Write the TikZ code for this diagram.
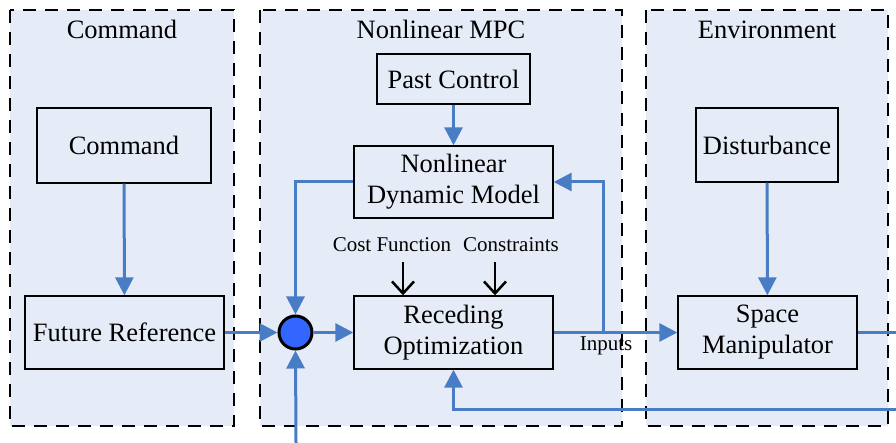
\documentclass[tikz,border=0pt]{standalone}
\usepackage{fontspec}
\setmainfont{Liberation Serif}
\usetikzlibrary{arrows.meta}
\definecolor{panelfill}{RGB}{230,236,247}
\definecolor{flowblue}{RGB}{72,124,196}
\definecolor{sumblue}{RGB}{51,102,255}

\begin{document}
\begin{tikzpicture}[x=1pt,y=-1pt,
  panel/.style={draw=black, line width=2.2pt, dash pattern=on 13pt off 9pt, fill=panelfill},
  paneltitle/.style={anchor=base, inner sep=0pt, font=\fontsize{26.5}{31}\selectfont},
  block/.style={draw=black, line width=1.4pt, fill=panelfill, inner sep=0pt,
    align=center, font=\fontsize{26.5}{31}\selectfont},
  small/.style={inner sep=0pt, font=\fontsize{21}{25}\selectfont},
  flow/.style={draw=flowblue, line width=3pt, -{Triangle[length=18pt,width=18pt]}},
  plain/.style={draw=flowblue, line width=3pt},
  given/.style={draw=black, line width=2.5pt, -{Straight Barb[length=12pt,width=22pt]}},
  sumnode/.style={circle, draw=black, line width=3pt, fill=sumblue, minimum size=33pt, inner sep=0pt}
]
\useasboundingbox (0,0) rectangle (896,443);

% three dashed panels
\draw[panel] (10,10) rectangle (234,426);
\draw[panel] (260,10) rectangle (622,426);
\draw[panel] (646,10) rectangle (888,426);
\node[paneltitle] (tcmd) at (122,39) {Command};
\node[paneltitle] (tmpc) at (441,39) {Nonlinear MPC};
\node[paneltitle] (tenv) at (767,39) {Environment};

% blocks
\node[block, minimum width=174pt, minimum height=75pt] (cmd) at (124,145.5) {Command};
\node[block, minimum width=199pt, minimum height=73pt] (fut) at (124.5,332.5) {Future Reference};
\node[block, minimum width=153pt, minimum height=50pt] (past) at (453.5,79) {Past Control};
\node[block, minimum width=199pt, minimum height=72pt] (ndm) at (453.5,182) {Nonlinear\\Dynamic Model};
\node[block, minimum width=199pt, minimum height=73pt] (ro) at (453.5,332.5) {Receding\\Optimization};
\node[block, minimum width=142pt, minimum height=74pt] (dist) at (767,145) {Disturbance};
\node[block, minimum width=179pt, minimum height=73pt] (sm) at (767.5,332.5) {Space\\Manipulator};
\node[sumnode] (sum) at (295.5,332.5) {};

% labels
\node[small] (cost) at (392,245) {Cost Function};
\node[small] (cons) at (511,245) {Constraints};
\node[small, anchor=base] (inputs) at (606,350) {Inputs};

% free ends and branch points
\coordinate (costin) at (403,262);
\coordinate (consin) at (495,262);
\coordinate (br) at (603,332.5);
\coordinate (outR) at (896,332.5);
\coordinate (inR) at (896,409);
\coordinate (inB) at (296,443);

% connectors
\draw[flow] (cmd) -- (fut);
\draw[flow] (fut) -- (sum);
\draw[flow] (sum) -- (ro);
\draw[flow] (past) -- (ndm);
\draw[flow] (ndm.west) -| (sum.north);
\draw[flow] (ro.east) -- (sm.west);
\draw[flow] (br) |- (ndm.east);
\draw[flow] (dist) -- (sm);
\draw[plain] (sm.east) -- (outR);
\draw[flow] (inR) -| (ro.south);
\draw[flow] (inB) -- (sum.south);
\draw[given] (costin) -- (costin |- ro.north);
\draw[given] (consin) -- (consin |- ro.north);
\end{tikzpicture}
\end{document}
